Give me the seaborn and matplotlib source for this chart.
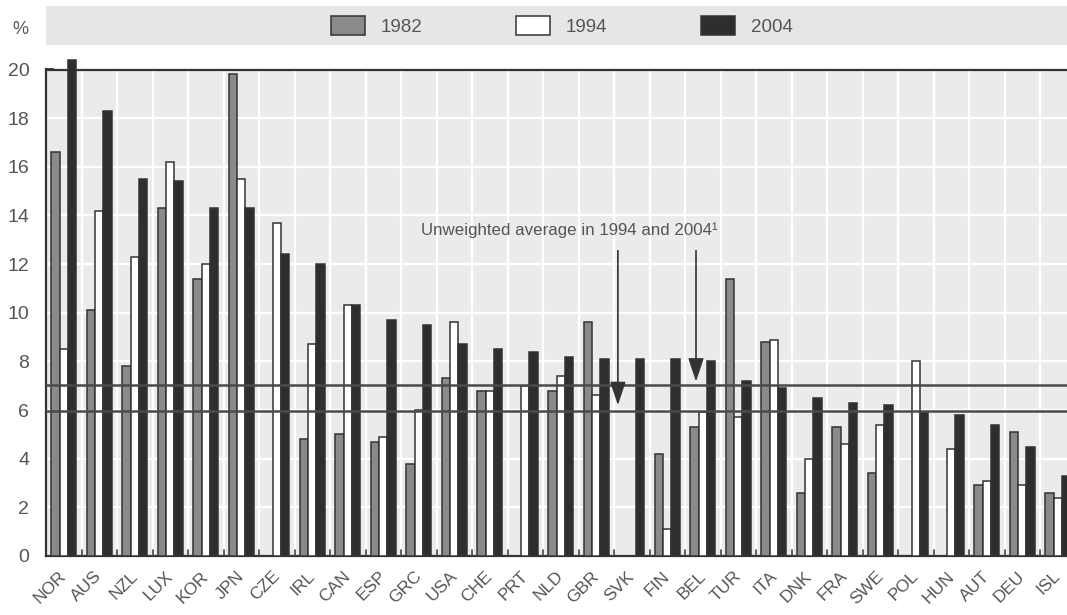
import numpy as np
import pandas as pd
import seaborn as sns
import matplotlib.pyplot as plt
import matplotlib.transforms as mtransforms
from matplotlib.patches import Rectangle, Patch

# Data
countries = ["NOR", "AUS", "NZL", "LUX", "KOR", "JPN", "CZE", "IRL", "CAN", "ESP",
             "GRC", "USA", "CHE", "PRT", "NLD", "GBR", "SVK", "FIN", "BEL", "TUR",
             "ITA", "DNK", "FRA", "SWE", "POL", "HUN", "AUT", "DEU", "ISL"]
v1982 = [16.6, 10.1, 7.8, 14.3, 11.4, 19.8, np.nan, 4.8, 5.0, 4.7,
         3.8, 7.3, 6.8, np.nan, 6.8, 9.6, np.nan, 4.2, 5.3, 11.4,
         8.8, 2.6, 5.3, 3.4, np.nan, np.nan, 2.9, 5.1, 2.6]
v1994 = [8.5, 14.2, 12.3, 16.2, 12.0, 15.5, 13.7, 8.7, 10.3, 4.9,
         6.0, 9.6, 6.8, 7.0, 7.4, 6.6, np.nan, 1.1, 5.9, 5.7,
         8.9, 4.0, 4.6, 5.4, 8.0, 4.4, 3.1, 2.9, 2.4]
v2004 = [20.4, 18.3, 15.5, 15.4, 14.3, 14.3, 12.4, 12.0, 10.3, 9.7,
         9.5, 8.7, 8.5, 8.4, 8.2, 8.1, 8.1, 8.1, 8.0, 7.2,
         6.9, 6.5, 6.3, 6.2, 5.9, 5.8, 5.4, 4.5, 3.3]
years = ["1982", "1994", "2004"]
avg_1994 = 5.95
avg_2004 = 7.05

df = pd.DataFrame({"country": countries, "1982": v1982, "1994": v1994, "2004": v2004})
long = df.melt(id_vars="country", var_name="year", value_name="value").dropna()

sns.set_theme(style="white")
plt.rcParams["font.family"] = ["Liberation Sans", "DejaVu Sans"]
grey_txt = "#555555"

fig = plt.figure(figsize=(10.67, 6.15), dpi=100)
ax = fig.add_axes([46 / 1067, 1 - 556 / 615, 1 - 46 / 1067, (556 - 69.5) / 615])
ax.set_facecolor("#ebebeb")

palette = {"1982": "#8a8a8a", "1994": "#ffffff", "2004": "#2e2e2e"}
sns.barplot(data=long, x="country", y="value", hue="year", order=countries,
            hue_order=years, palette=palette, width=0.7, errorbar=None,
            edgecolor="#333333", linewidth=1.1, saturation=1, ax=ax, legend=False)
for p in ax.patches:
    p.set_clip_on(False)
    p.set_zorder(3)

# gridlines
ax.set_ylim(0, 20)
ax.set_xlim(-0.5, (1067 - 46) / 35.5 - 0.5)
ax.set_yticks(np.arange(0, 21, 2))
ax.set_xticks(np.arange(len(countries)))
for y in np.arange(2, 20, 2):
    ax.axhline(y, color="white", lw=1.6, zorder=1)
for x in np.arange(len(countries)) + 0.5:
    ax.axvline(x, color="white", lw=1.6, zorder=1)
    ax.plot([x, x], [0, 0.25], color="#444444", lw=1.2, zorder=4)

# average lines
ax.axhline(avg_2004, color="#4a4a4a", lw=1.8, zorder=5)
ax.axhline(avg_1994, color="#4a4a4a", lw=1.8, zorder=5)

for s in ["top", "left", "bottom"]:
    ax.spines[s].set_color("#333333")
    ax.spines[s].set_linewidth(1.6)
ax.spines["right"].set_visible(False)

ax.tick_params(axis="y", direction="in", length=6, width=1.3, color="#333333",
               labelsize=14, labelcolor=grey_txt, pad=12, left=True)
ax.tick_params(axis="x", length=0, labelsize=12.5, labelcolor=grey_txt, pad=9)
shift = mtransforms.ScaledTranslation(-5 / 100, 0, fig.dpi_scale_trans)
for lab in ax.get_xticklabels():
    lab.set_rotation(45)
    lab.set_ha("right")
    lab.set_rotation_mode("anchor")
    lab.set_transform(lab.get_transform() + shift)
ax.set_xlabel("")
ax.set_ylabel("")

# annotation
ax.text(14.25, 13.4, "Unweighted average in 1994 and 2004\u00b9", ha="center", va="center",
        fontsize=12.2, color=grey_txt, zorder=6)
for xa, tip in [(15.61, 6.2), (17.81, 7.17)]:
    ax.annotate("", xy=(xa, tip), xytext=(xa, 12.55),
                arrowprops=dict(arrowstyle="-|>,head_length=0.72,head_width=0.24",
                                mutation_scale=20, color="#333333", lw=1.2,
                                shrinkA=0, shrinkB=0), zorder=6)

# legend band
fig.patches.append(Rectangle((46 / 1067, 1 - 45 / 615), 1 - 46 / 1067, 39 / 615,
                             transform=fig.transFigure, facecolor="#e6e6e6",
                             edgecolor="none", zorder=0))
fig.text(20 / 1067, 1 - 30 / 615, "%", fontsize=13, color=grey_txt, ha="center", va="center")
handles = [Patch(facecolor=palette[y], edgecolor="#333333", linewidth=1.1, label=y) for y in years]
fig.legend(handles=handles, loc="center", bbox_to_anchor=(562 / 1067, 1 - 26 / 615),
           ncol=3, frameon=False, fontsize=13.5, handlelength=1.8, handleheight=1.15,
           handletextpad=0.85, columnspacing=5.0, labelcolor=grey_txt)

fig.savefig("out.png", dpi=100)
